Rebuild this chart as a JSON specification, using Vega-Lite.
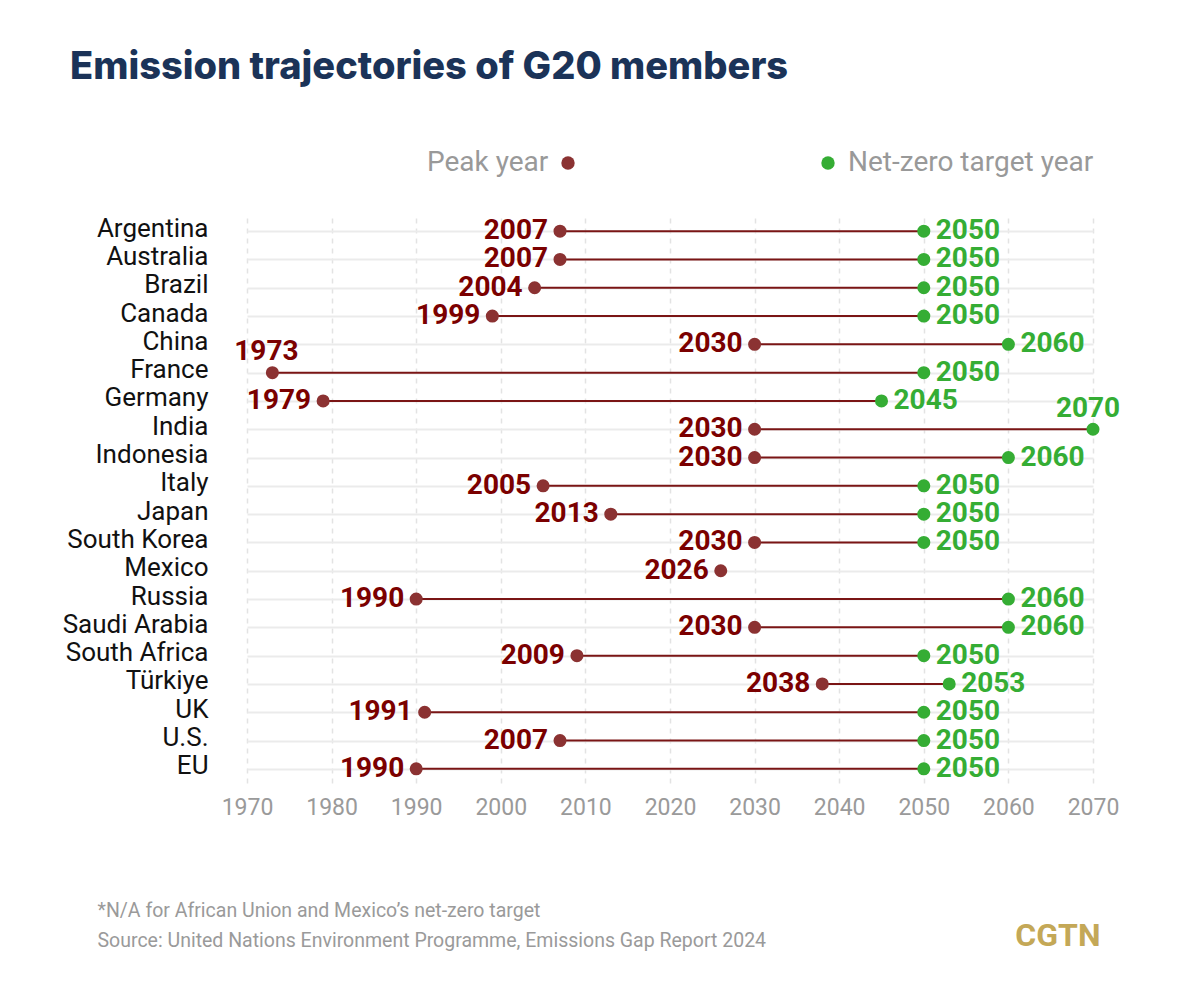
{
  "$schema": "https://vega.github.io/schema/vega-lite/v6.json",
  "width": 846,
  "height": 566,
  "autosize": {"type": "none"},
  "padding": {"left": 247, "top": 217, "right": 87, "bottom": 217},
  "background": "white",
  "title": {
    "text": "Emission trajectories of G20 members",
    "anchor": "start",
    "frame": "group",
    "dx": -177,
    "offset": 62,
    "font": "Inter",
    "fontSize": 38,
    "fontWeight": 800,
    "color": "#1b3358"
  },
  "config": {
    "view": {"stroke": null},
    "legend": {"padding": 0}
  },
  "data": {
    "values": [
      {"country": "Argentina", "peak": 2007, "netzero": 2050},
      {"country": "Australia", "peak": 2007, "netzero": 2050},
      {"country": "Brazil", "peak": 2004, "netzero": 2050},
      {"country": "Canada", "peak": 1999, "netzero": 2050},
      {"country": "China", "peak": 2030, "netzero": 2060},
      {"country": "France", "peak": 1973, "netzero": 2050},
      {"country": "Germany", "peak": 1979, "netzero": 2045},
      {"country": "India", "peak": 2030, "netzero": 2070},
      {"country": "Indonesia", "peak": 2030, "netzero": 2060},
      {"country": "Italy", "peak": 2005, "netzero": 2050},
      {"country": "Japan", "peak": 2013, "netzero": 2050},
      {"country": "South Korea", "peak": 2030, "netzero": 2050},
      {"country": "Mexico", "peak": 2026, "netzero": null},
      {"country": "Russia", "peak": 1990, "netzero": 2060},
      {"country": "Saudi Arabia", "peak": 2030, "netzero": 2060},
      {"country": "South Africa", "peak": 2009, "netzero": 2050},
      {"country": "Türkiye", "peak": 2038, "netzero": 2053},
      {"country": "UK", "peak": 1991, "netzero": 2050},
      {"country": "U.S.", "peak": 2007, "netzero": 2050},
      {"country": "EU", "peak": 1990, "netzero": 2050}
    ]
  },
  "encoding": {
    "y": {
      "field": "country",
      "type": "nominal",
      "sort": null,
      "scale": {
        "type": "point",
        "padding": 0.5,
        "domain": ["Argentina", "Australia", "Brazil", "Canada", "China", "France", "Germany", "India", "Indonesia", "Italy", "Japan", "South Korea", "Mexico", "Russia", "Saudi Arabia", "South Africa", "Türkiye", "UK", "U.S.", "EU"]
      },
      "axis": {
        "domain": false,
        "ticks": false,
        "grid": true,
        "gridColor": "#ebebeb",
        "gridWidth": 2,
        "labelFont": "Roboto",
        "labelFontSize": 26,
        "labelColor": "#111111",
        "labelPadding": 39,
        "labelOffset": -3,
        "title": "CGTN",
        "titleAngle": 0,
        "titleX": 853,
        "titleY": 728,
        "titleAlign": "right",
        "titleBaseline": "alphabetic",
        "titleFont": "Roboto",
        "titleFontSize": 32,
        "titleFontWeight": "bold",
        "titleColor": "#c4a857"
      }
    }
  },
  "layer": [
    {
      "transform": [{"filter": "isValid(datum.netzero)"}],
      "mark": {"type": "rule", "color": "#7a1515", "strokeWidth": 2},
      "encoding": {
        "x": {
          "field": "peak",
          "type": "quantitative",
          "scale": {"domain": [1970, 2070], "nice": false, "zero": false},
          "axis": {
            "values": [1970, 1980, 1990, 2000, 2010, 2020, 2030, 2040, 2050, 2060, 2070],
            "format": "d",
            "domain": false,
            "ticks": false,
            "grid": true,
            "gridDash": [5, 5],
            "gridColor": "#e3e3e3",
            "gridWidth": 1.5,
            "labelFlush": false,
            "labelFont": "Roboto",
            "labelFontSize": 23,
            "labelColor": "#9a9a9a",
            "labelPadding": 13,
            "title": ["*N/A for African Union and Mexico’s net-zero target", "Source: United Nations Environment Programme, Emissions Gap Report 2024"],
            "titleX": -150,
            "titleY": 133,
            "titleAlign": "left",
            "titleBaseline": "alphabetic",
            "titleFont": "Roboto",
            "titleFontSize": 19.5,
            "titleFontWeight": "normal",
            "titleColor": "#9a9a9a",
            "titleLineHeight": 30
          }
        },
        "x2": {"field": "netzero"}
      }
    },
    {
      "mark": {"type": "point", "filled": true, "opacity": 1, "size": 170},
      "encoding": {
        "x": {"field": "peak", "type": "quantitative"},
        "color": {
          "datum": "Peak year",
          "scale": {"range": ["#8b3232"]},
          "legend": {
            "orient": "none",
            "legendX": 180,
            "legendY": -61,
            "title": "Peak year",
            "titleOrient": "left",
            "titleFont": "Roboto",
            "titleFontSize": 28,
            "titleFontWeight": "normal",
            "titleColor": "#999999",
            "titlePadding": 12,
            "labelExpr": "''",
            "symbolSize": 180,
            "symbolType": "circle",
            "symbolStrokeWidth": 0
          }
        }
      }
    },
    {
      "transform": [{"filter": "isValid(datum.netzero)"}],
      "mark": {"type": "point", "filled": true, "opacity": 1, "size": 170},
      "encoding": {
        "x": {"field": "netzero", "type": "quantitative"},
        "color": {
          "datum": "Net-zero target year",
          "scale": {"range": ["#35ad34"]},
          "legend": {
            "orient": "none",
            "legendX": 567,
            "legendY": -68,
            "title": null,
            "labelFont": "Roboto",
            "labelFontSize": 28,
            "labelColor": "#999999",
            "labelOffset": 6,
            "labelLimit": 400,
            "symbolSize": 180,
            "symbolType": "circle",
            "symbolStrokeWidth": 0
          }
        }
      }
    },
    {
      "transform": [{"filter": "datum.country !== 'France'"}],
      "mark": {"type": "text", "align": "right", "baseline": "middle", "dx": -12, "font": "Roboto", "fontSize": 28, "fontWeight": "bold", "color": "#7b0000"},
      "encoding": {
        "x": {"field": "peak", "type": "quantitative"},
        "text": {"field": "peak", "type": "quantitative", "format": "d"}
      }
    },
    {
      "transform": [{"filter": "datum.country === 'France'"}],
      "mark": {"type": "text", "align": "center", "baseline": "middle", "dx": -6, "dy": -21, "font": "Roboto", "fontSize": 28, "fontWeight": "bold", "color": "#7b0000"},
      "encoding": {
        "x": {"field": "peak", "type": "quantitative"},
        "text": {"field": "peak", "type": "quantitative", "format": "d"}
      }
    },
    {
      "transform": [{"filter": "isValid(datum.netzero) && datum.country !== 'India'"}],
      "mark": {"type": "text", "align": "left", "baseline": "middle", "dx": 12, "font": "Roboto", "fontSize": 28, "fontWeight": "bold", "color": "#35ad34"},
      "encoding": {
        "x": {"field": "netzero", "type": "quantitative"},
        "text": {"field": "netzero", "type": "quantitative", "format": "d"}
      }
    },
    {
      "transform": [{"filter": "datum.country === 'India'"}],
      "mark": {"type": "text", "align": "center", "baseline": "middle", "dx": -5, "dy": -20, "font": "Roboto", "fontSize": 28, "fontWeight": "bold", "color": "#35ad34"},
      "encoding": {
        "x": {"field": "netzero", "type": "quantitative"},
        "text": {"field": "netzero", "type": "quantitative", "format": "d"}
      }
    }
  ],
  "resolve": {"scale": {"color": "independent"}, "legend": {"color": "independent"}}
}
